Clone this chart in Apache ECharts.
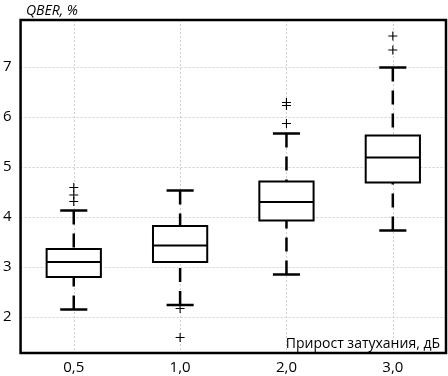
<!DOCTYPE html>
<html>
<head>
<meta charset="utf-8">
<script src="https://cdn.jsdelivr.net/npm/echarts@6/dist/echarts.min.js"></script>
<style>
html,body{margin:0;padding:0;background:#fff;}
#c{width:448px;height:376px;}
</style>
</head>
<body>
<div id="c"></div>
<script>
const categories = ['0,5', '1,0', '2,0', '3,0'];
const whiskerLow  = [2.15, 2.24, 2.85, 3.73];
const q1          = [2.80, 3.10, 3.93, 4.69];
const median      = [3.10, 3.43, 4.30, 5.19];
const q3          = [3.36, 3.82, 4.71, 5.63];
const whiskerHigh = [4.13, 4.53, 5.67, 6.99];
const outlierCat  = [0, 0, 0, 1, 1, 2, 2, 2, 3, 3];
const outlierVal  = [4.31, 4.44, 4.59, 2.17, 1.59, 5.87, 6.23, 6.29, 7.34, 7.62];
const yTitle = 'QBER, %';
const xTitle = 'Прирост затухания, дБ';

const FONT = 'Open Sans';

const boxData = categories.map((c, i) => [i, whiskerLow[i], q1[i], median[i], q3[i], whiskerHigh[i]]);
const outlierData = outlierCat.map((c, i) => [c, outlierVal[i]]);

const chart = echarts.init(document.getElementById('c'), null, {renderer: 'canvas'});
chart.setOption({
  animation: false,
  backgroundColor: '#fff',
  grid: {left: 17, top: 20, right: 2, bottom: 23, show: true, borderColor: '#000', borderWidth: 2.5, backgroundColor: 'transparent', z: 10},
  title: [
    {text: yTitle, left: 21, top: -1, textStyle: {fontFamily: FONT, fontStyle: 'italic', fontWeight: 'normal', fontSize: 14, color: '#000'}},
    {text: xTitle, right: 3, top: 332, textStyle: {fontFamily: FONT, fontWeight: 'normal', fontSize: 14, color: '#000'}}
  ],
  xAxis: {
    type: 'category',
    data: categories,
    boundaryGap: true,
    axisLine: {show: false},
    axisTick: {show: false},
    axisLabel: {fontFamily: FONT, fontSize: 15, color: '#000', margin: 7},
    splitLine: {show: true, alignWithLabel: true, lineStyle: {color: '#d0d0d0', type: [2, 2], width: 1}}
  },
  yAxis: {
    type: 'value',
    min: 1.28,
    max: 7.94,
    splitNumber: 6,
    axisLine: {show: false},
    axisTick: {show: false},
    axisLabel: {
      fontFamily: FONT, fontSize: 15, color: '#000', margin: 9,
      showMinLabel: false, showMaxLabel: false,
      formatter: v => (Math.abs(v - Math.round(v)) < 1e-6 ? String(Math.round(v)) : '')
    },
    splitLine: {show: true, lineStyle: {color: '#d0d0d0', type: [2, 2], width: 1}}
  },
  series: [
    {
      type: 'custom',
      data: boxData,
      encode: {x: 0, y: [1, 2, 3, 4, 5]},
      z: 5,
      renderItem: function (params, api) {
        const i = api.value(0);
        const pLo = api.coord([i, api.value(1)]);
        const pQ1 = api.coord([i, api.value(2)]);
        const pMed = api.coord([i, api.value(3)]);
        const pQ3 = api.coord([i, api.value(4)]);
        const pHi = api.coord([i, api.value(5)]);
        const band = api.size([1, 0])[0];
        const bw = band * 0.51;
        const cw = bw * 0.5;
        const x = pMed[0];
        const dashStyle = {stroke: '#000', lineWidth: 2.5, lineDash: [14, 9], fill: null};
        const solid = {stroke: '#000', lineWidth: 2.5, fill: null};
        return {
          type: 'group',
          children: [
            {type: 'line', shape: {x1: x, y1: pLo[1], x2: x, y2: pQ1[1]}, style: dashStyle},
            {type: 'line', shape: {x1: x, y1: pHi[1], x2: x, y2: pQ3[1]}, style: dashStyle},
            {type: 'line', shape: {x1: x - cw / 2, y1: pLo[1], x2: x + cw / 2, y2: pLo[1]}, style: solid},
            {type: 'line', shape: {x1: x - cw / 2, y1: pHi[1], x2: x + cw / 2, y2: pHi[1]}, style: solid},
            {type: 'rect', shape: {x: x - bw / 2, y: pQ3[1], width: bw, height: pQ1[1] - pQ3[1]}, style: {stroke: '#000', lineWidth: 2, fill: '#fff'}},
            {type: 'line', shape: {x1: x - bw / 2, y1: pMed[1], x2: x + bw / 2, y2: pMed[1]}, style: {stroke: '#000', lineWidth: 2}}
          ]
        };
      }
    },
    {
      type: 'scatter',
      data: outlierData,
      symbol: 'path://M0,5L10,5M5,0L5,10',
      symbolSize: 9,
      z: 6,
      itemStyle: {color: 'none', borderColor: '#000', borderWidth: 1.1, opacity: 1}
    }
  ]
});
</script>
</body>
</html>
